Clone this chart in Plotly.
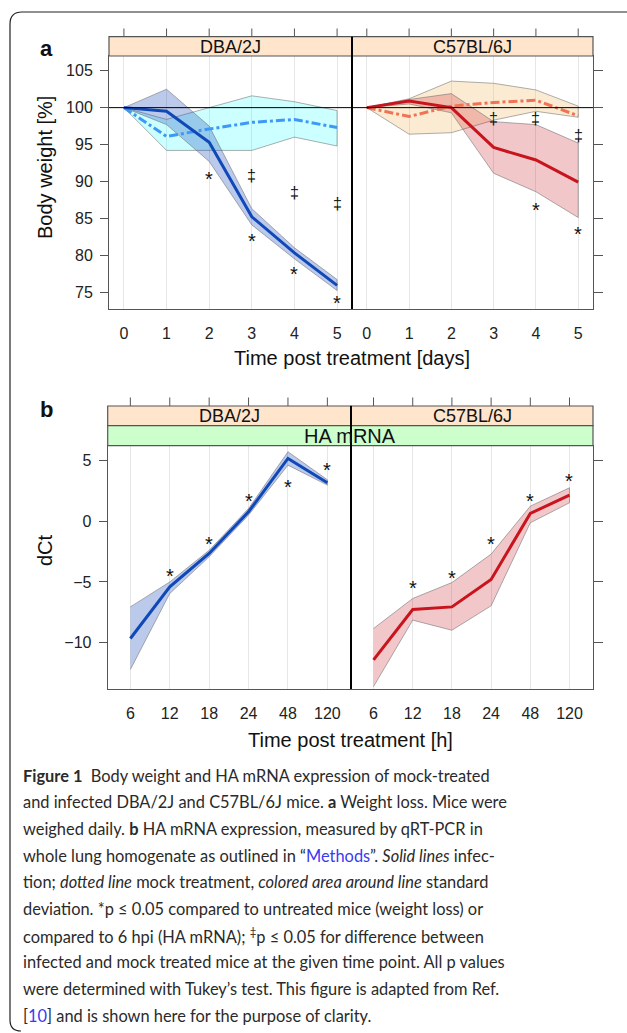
import plotly.graph_objects as go

# ---------------- data ----------------
days = [0, 1, 2, 3, 4, 5]
dba_inf = [100, 99.5, 95.3, 85.2, 80.3, 75.9]
dba_inf_hi = [100, 102.5, 97.5, 86.3, 81.0, 76.7]
dba_inf_lo = [100, 97.7, 92.7, 84.1, 79.5, 75.2]
dba_mock = [100, 96.1, 97.1, 98.0, 98.4, 97.3]
dba_mock_hi = [100, 98.4, 100.0, 101.6, 100.8, 99.6]
dba_mock_lo = [100, 94.2, 94.2, 94.2, 96.0, 94.8]

c57_inf = [100, 100.9, 100.0, 94.6, 92.9, 89.9]
c57_inf_hi = [100, 101.1, 101.9, 98.1, 97.7, 95.2]
c57_inf_lo = [100, 100.5, 99.3, 91.1, 88.6, 85.1]
c57_mock = [100, 98.8, 100.2, 100.7, 101.0, 98.9]
c57_mock_hi = [100, 101.2, 103.6, 103.3, 102.4, 100.2]
c57_mock_lo = [100, 96.4, 96.6, 98.3, 99.5, 98.7]

dba_star_x = [2, 3, 4, 5]
dba_star_y = [90.9, 82.4, 78.0, 74.0]
dba_dag_x = [3, 4, 5]
dba_dag_y = [90.8, 88.5, 87.0]
c57_star_x = [4, 5]
c57_star_y = [86.7, 83.4]
c57_dag_x = [3, 4, 5]
c57_dag_y = [98.5, 98.5, 96.2]

hours = ["6", "12", "18", "24", "48", "120"]
dba_dct = [-9.65, -5.4, -2.66, 0.77, 5.15, 3.15]
dba_dct_hi = [-7.05, -5.0, -2.4, 1.04, 5.7, 3.4]
dba_dct_lo = [-12.2, -5.95, -2.93, 0.5, 4.6, 2.96]
c57_dct = [-11.4, -7.27, -7.05, -4.8, 0.63, 2.14]
c57_dct_hi = [-8.83, -6.36, -5.05, -2.71, 1.23, 2.74]
c57_dct_lo = [-13.6, -8.14, -8.97, -6.96, -0.14, 1.51]

dba_b_star_x = ["12", "18", "24", "48", "120"]
dba_b_star_y = [-4.17, -1.56, 1.95, 3.1, 4.5]
c57_b_star_x = ["12", "18", "24", "48", "120"]
c57_b_star_y = [-5.2, -4.36, -1.56, 2.0, 3.6]

weight_ticks = [75, 80, 85, 90, 95, 100, 105]
dct_ticks = [-10, -5, 0, 5]

# ---------------- layout helpers ----------------
W, H = 627, 1033
def PX(p):
    return p / W
def PY(p):
    return 1 - p / H

FONT = "Liberation Sans, Arial, sans-serif"
CAP_FONT = "Lato, Liberation Sans, sans-serif"
BORDER = "#555555"
GRID = "#e6e6e6"

fig = go.Figure()

def band(x, hi, lo, fillcol, xa, ya):
    fig.add_trace(go.Scatter(
        x=list(x) + list(x)[::-1], y=list(hi) + list(lo)[::-1],
        fill="toself", fillcolor=fillcol, mode="lines",
        line=dict(color="rgba(110,110,110,0.55)", width=1),
        xaxis=xa, yaxis=ya, hoverinfo="skip", showlegend=False))

def line(x, y, col, dash, xa, ya):
    fig.add_trace(go.Scatter(
        x=x, y=y, mode="lines", line=dict(color=col, width=3, dash=dash),
        xaxis=xa, yaxis=ya, showlegend=False))

# panel a left (DBA/2J)
band(days, dba_mock_hi, dba_mock_lo, "rgba(0,255,255,0.2)", "x", "y")
band(days, dba_inf_hi, dba_inf_lo, "rgba(30,80,190,0.3)", "x", "y")
line(days, dba_mock, "#3d99f5", "dashdot", "x", "y")
line(days, dba_inf, "#1048b8", "solid", "x", "y")
# panel a right (C57BL/6J)
band(days, c57_mock_hi, c57_mock_lo, "rgba(245,190,110,0.3)", "x2", "y2")
band(days, c57_inf_hi, c57_inf_lo, "rgba(200,30,45,0.25)", "x2", "y2")
line(days, c57_mock, "#f07355", "dashdot", "x2", "y2")
line(days, c57_inf, "#c8141c", "solid", "x2", "y2")
# panel b
band(hours, dba_dct_hi, dba_dct_lo, "rgba(30,80,190,0.3)", "x3", "y3")
line(hours, dba_dct, "#1048b8", "solid", "x3", "y3")
band(hours, c57_dct_hi, c57_dct_lo, "rgba(200,30,45,0.25)", "x4", "y4")
line(hours, c57_dct, "#c8141c", "solid", "x4", "y4")

# ---------------- axes ----------------
ax_common = dict(showline=True, mirror=True, linecolor=BORDER, linewidth=1,
                 zeroline=False, tickfont=dict(family=FONT, size=16, color="#222"))
A_TOP, A_BOT = 56, 309
B_TOP, B_BOT = 445.7, 689
fig.update_layout(
    xaxis=dict(domain=[PX(109), PX(352)], range=[-0.35, 5.35], anchor="y",
               tickvals=days, showgrid=True, gridcolor=GRID, ticks="outside",
               ticklen=10, tickcolor="rgba(0,0,0,0)", **ax_common),
    yaxis=dict(domain=[PY(A_BOT), PY(A_TOP)], range=[72.7, 107], anchor="x",
               tickvals=weight_ticks, showgrid=False, ticks="outside", ticklen=8,
               tickcolor=BORDER, ticklabelstandoff=4, **ax_common),
    xaxis2=dict(domain=[PX(352), PX(593)], range=[-0.35, 5.35], anchor="y2",
                tickvals=days, showgrid=True, gridcolor=GRID, ticks="outside",
                ticklen=10, tickcolor="rgba(0,0,0,0)", **ax_common),
    yaxis2=dict(domain=[PY(A_BOT), PY(A_TOP)], range=[72.7, 107], anchor="x2",
                side="right", tickvals=weight_ticks, showticklabels=False,
                showgrid=False, ticks="outside", ticklen=9, tickcolor=BORDER,
                **ax_common),
    xaxis3=dict(domain=[PX(107.7), PX(351)], type="category", range=[-0.575, 5.6],
                anchor="y3", categoryorder="array", categoryarray=hours,
                showgrid=True, gridcolor=GRID, ticks="outside", ticklen=10,
                tickcolor="rgba(0,0,0,0)", **ax_common),
    yaxis3=dict(domain=[PY(B_BOT), PY(B_TOP)], range=[-13.8, 6.2], anchor="x3",
                tickvals=dct_ticks, showgrid=False, ticks="outside", ticklen=8,
                tickcolor=BORDER, ticklabelstandoff=4, **ax_common),
    xaxis4=dict(domain=[PX(351), PX(593)], type="category", range=[-0.575, 5.6],
                anchor="y4", categoryorder="array", categoryarray=hours,
                showgrid=True, gridcolor=GRID, ticks="outside", ticklen=10,
                tickcolor="rgba(0,0,0,0)", **ax_common),
    yaxis4=dict(domain=[PY(B_BOT), PY(B_TOP)], range=[-13.8, 6.2], anchor="x4",
                side="right", tickvals=dct_ticks, showticklabels=False,
                showgrid=False, ticks="outside", ticklen=9, tickcolor=BORDER,
                **ax_common),
)

shapes = []
# reference line at 100 %
shapes.append(dict(type="line", xref="paper", yref="y", x0=PX(109), x1=PX(593),
                   y0=100, y1=100, line=dict(color="black", width=1)))
# strips
def strip(x0, x1, y0, y1, col):
    shapes.append(dict(type="rect", xref="paper", yref="paper",
                       x0=PX(x0), x1=PX(x1), y0=PY(y1), y1=PY(y0),
                       fillcolor=col, line=dict(color=BORDER, width=1.2)))
strip(109, 352, 36.7, 56, "#ffe5cc")
strip(352, 593, 36.7, 56, "#ffe5cc")
strip(107.7, 351, 406, 425.7, "#ffe5cc")
strip(351, 593, 406, 425.7, "#ffe5cc")
strip(107.7, 593, 425.7, 445.7, "#ccffcc")
# panel dividers
shapes.append(dict(type="line", xref="paper", yref="paper", x0=PX(352), x1=PX(352),
                   y0=PY(309), y1=PY(36.7), line=dict(color="black", width=2)))
shapes.append(dict(type="line", xref="paper", yref="paper", x0=PX(351), x1=PX(351),
                   y0=PY(689), y1=PY(406), line=dict(color="black", width=2)))
# top ticks above strips
for xa in ("x", "x2"):
    for d in days:
        shapes.append(dict(type="line", xref=xa, yref="paper", x0=d, x1=d,
                           y0=PY(36.7), y1=PY(28.5), line=dict(color=BORDER, width=1)))
for xa in ("x3", "x4"):
    for i, hcat in enumerate(hours):
        shapes.append(dict(type="line", xref=xa, yref="paper", x0=i, x1=i,
                           y0=PY(406), y1=PY(397.5), line=dict(color=BORDER, width=1)))
# figure frame
shapes.append(dict(type="path", xref="paper", yref="paper",
                   path=f"M {PX(21)},{PY(1031)} Q {PX(10)},{PY(1031)} {PX(10)},{PY(1020)} "
                        f"L {PX(10)},{PY(24)} Q {PX(10)},{PY(12)} {PX(22)},{PY(12)} L {PX(627)},{PY(12)}",
                   line=dict(color="#222", width=1.2)))
fig.update_layout(shapes=shapes)

ann = []
def txt(x, y, s, size=18, angle=0, xanchor="center", family=FONT, color="#111"):
    ann.append(dict(x=PX(x), y=PY(y), xref="paper", yref="paper", text=s,
                    showarrow=False, textangle=angle, xanchor=xanchor, yanchor="middle",
                    font=dict(family=family, size=size, color=color)))

# strip labels
txt(230.5, 46.5, "DBA/2J", 18)
txt(472.5, 46.5, "C57BL/6J", 18)
txt(229.3, 416, "DBA/2J", 18)
txt(472, 416, "C57BL/6J", 18)
txt(350.3, 436, "HA mRNA", 20)
# panel letters
txt(47, 48, "<b>a</b>", 22)
txt(47, 410, "<b>b</b>", 22)
# axis titles
txt(45, 168, "Body weight [%]", 20, angle=-90)
txt(352, 358, "Time post treatment [days]", 20)
txt(45, 550, "dCt", 20, angle=-90)
txt(350, 740, "Time post treatment [h]", 20)

# significance marks
def marks(xs, ys, sym, xref, yref, size, yshift, cats=None):
    for xv, yv in zip(xs, ys):
        xpos = cats.index(xv) if cats is not None else xv
        ann.append(dict(x=xpos, y=yv, xref=xref, yref=yref, text=sym, showarrow=False,
                        yshift=yshift, font=dict(family=FONT, size=size, color="#111")))
marks(dba_star_x, dba_star_y, "*", "x", "y", 20, -4)
marks(dba_dag_x, dba_dag_y, "‡", "x", "y", 16, 0)
marks(c57_star_x, c57_star_y, "*", "x2", "y2", 20, -4)
marks(c57_dag_x, c57_dag_y, "‡", "x2", "y2", 16, 0)
marks(dba_b_star_x, dba_b_star_y, "*", "x3", "y3", 20, -4, hours)
marks(c57_b_star_x, c57_b_star_y, "*", "x4", "y4", 20, -4, hours)

# caption
LINK = "#3a3af0"
caption = [
    "<b>Figure 1</b>  Body weight and HA mRNA expression of mock-treated",
    "and infected DBA/2J and C57BL/6J mice. <b>a</b> Weight loss. Mice were",
    "weighed daily. <b>b</b> HA mRNA expression, measured by qRT-PCR in",
    f"whole lung homogenate as outlined in “<span style='color:{LINK}'>Methods</span>”. <i>Solid lines</i> infec-",
    "tion; <i>dotted line</i> mock treatment, <i>colored area around line</i> standard",
    "deviation. *p ≤ 0.05 compared to untreated mice (weight loss) or",
    "compared to 6 hpi (HA mRNA); <sup>‡</sup>p ≤ 0.05 for difference between",
    "infected and mock treated mice at the given time point. All p values",
    "were determined with Tukey’s test. This figure is adapted from Ref.",
    f"[<span style='color:{LINK}'>10</span>] and is shown here for the purpose of clarity.",
]
for i, s in enumerate(caption):
    txt(21, 775 + i * 26.7, s, 16.4, xanchor="left", family=CAP_FONT, color="#2a2a2a")

fig.update_layout(annotations=ann, width=W, height=H,
                  margin=dict(l=0, r=0, t=0, b=0),
                  paper_bgcolor="white", plot_bgcolor="white", showlegend=False)

fig.write_html("out.html", config={"displayModeBar": False},
               post_script="document.body.style.margin='0';")
